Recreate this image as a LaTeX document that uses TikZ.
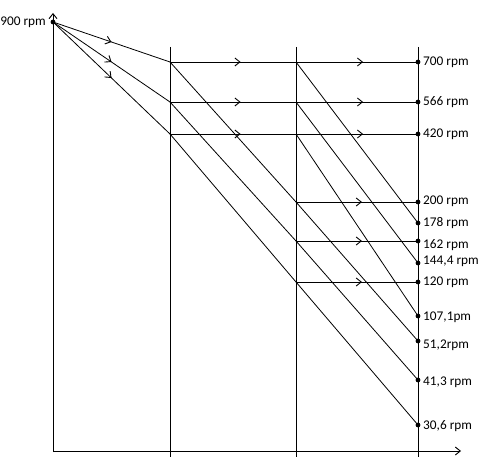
\documentclass[tikz,border=0pt]{standalone}
\usepackage{fontspec}
\setmainfont{Carlito}
\usetikzlibrary{arrows.meta,decorations.markings}
\tikzset{
  barb/.tip={Straight Barb[length=5pt,width=8pt,line width=0.9pt]},
  ln/.style={line width=0.8pt},
  axis/.style={line width=1pt},
  midarrow/.style={ln,postaction={decorate},decoration={markings,mark=at position #1 with {\arrow{barb}}}},
  lbl/.style={anchor=west,inner sep=0pt,font=\fontsize{13.3}{15}\selectfont},
  dot/.style={fill=black}
}
\begin{document}
\begin{tikzpicture}[x=1pt,y=-1pt]
\useasboundingbox (0,0) rectangle (478,457);
% axes
\coordinate (o) at (53,452);
\coordinate (ytop) at (53,13);
\coordinate (xend) at (461,451);
\draw[axis,-barb] (o) -- (ytop);
\draw[axis,-barb] (53,451) -- (xend);
% vertical shafts
\coordinate (c1t) at (170,47); \coordinate (c1b) at (170,457);
\coordinate (c2t) at (296,47); \coordinate (c2b) at (296,457);
\coordinate (c3t) at (418,47); \coordinate (c3b) at (418,457);
\draw[axis] (c1t) -- (c1b);
\draw[axis] (c2t) -- (c2b);
\draw[axis] (c3t) -- (c3b);
% points
\coordinate (S) at (53,22);
\coordinate (a1) at (170,62);
\coordinate (a2) at (170,102);
\coordinate (a3) at (170,134);
\coordinate (b1) at (296,62);
\coordinate (b2) at (296,102);
\coordinate (b3) at (296,134);
\coordinate (b4) at (296,202);
\coordinate (b5) at (296,241);
\coordinate (b6) at (296,282);
\coordinate (r700) at (418,62);
\coordinate (r566) at (418,102);
\coordinate (r420) at (418,134);
\coordinate (r200) at (418,202);
\coordinate (r178) at (418,223);
\coordinate (r162) at (418,241);
\coordinate (r144) at (418,263);
\coordinate (r120) at (418,282);
\coordinate (r107) at (418,316);
\coordinate (r51) at (418,341);
\coordinate (r41) at (418,380);
\coordinate (r30) at (418,425);
% source rays
\draw[midarrow=0.5] (S) -- (a1);
\draw[midarrow=0.5] (S) -- (a2);
\draw[midarrow=0.5] (S) -- (a3);
% horizontals
\draw[midarrow=0.56] (a1) -- (b1);
\draw[midarrow=0.56] (a2) -- (b2);
\draw[midarrow=0.56] (a3) -- (b3);
\draw[midarrow=0.55] (b1) -- (r700);
\draw[midarrow=0.55] (b2) -- (r566);
\draw[midarrow=0.55] (b3) -- (r420);
\draw[midarrow=0.54] (b4) -- (r200);
\draw[midarrow=0.54] (b5) -- (r162);
\draw[midarrow=0.54] (b6) -- (r120);
% diagonals
\draw[ln] (a1) -- (b4) -- (r51);
\draw[ln] (a2) -- (b5) -- (r41);
\draw[ln] (a3) -- (b6) -- (r30);
\draw[ln] (b1) -- (r178);
\draw[ln] (b2) -- (r144);
\draw[ln] (b3) -- (r107);
% dots
\foreach \p in {S,r700,r566,r420,r200,r178,r162,r144,r120,r107,r51,r41,r30}
  \fill[dot] (\p) circle (2.4);
% labels
\node[lbl,anchor=east] (l900) at (46,22) {900 rpm};
\node[lbl] (l700) at (423,62) {700 rpm};
\node[lbl] (l566) at (423,102) {566 rpm};
\node[lbl] (l420) at (423,134) {420 rpm};
\node[lbl] (l200) at (423,201) {200 rpm};
\node[lbl] (l178) at (423,223) {178 rpm};
\node[lbl] (l162) at (423,245) {162 rpm};
\node[lbl] (l144) at (423,261) {144,4 rpm};
\node[lbl] (l120) at (423,282) {120 rpm};
\node[lbl] (l107) at (423,317) {107,1pm};
\node[lbl] (l51) at (423,345) {51,2rpm};
\node[lbl] (l41) at (423,382) {41,3 rpm};
\node[lbl] (l30) at (423,426) {30,6 rpm};
\end{tikzpicture}
\end{document}
